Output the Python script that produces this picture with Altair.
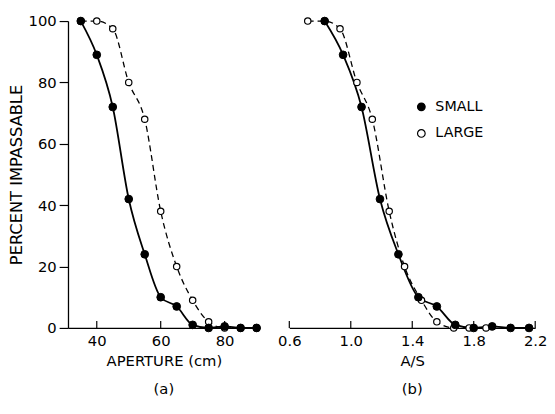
import altair as alt
import pandas as pd

# ---- data ----
series = ["SMALL", "LARGE"]
aperture_cm = [35, 40, 45, 50, 55, 60, 65, 70, 75, 80, 85, 90]
small_pct = [100, 89, 72, 42, 24, 10, 7, 1, 0, 0.5, 0, 0]
large_pct = [100, 100, 97.5, 80, 68, 38, 20, 9, 2, 0, 0, 0]
small_ratio = [0.83, 0.95, 1.07, 1.19, 1.31, 1.44, 1.56, 1.68, 1.80, 1.92, 2.04, 2.16]
large_ratio = [0.72, 0.83, 0.93, 1.04, 1.14, 1.25, 1.35, 1.46, 1.56, 1.67, 1.77, 1.88]

aperture_ticks = [40, 60, 80]
ratio_ticks = [0.6, 1.0, 1.4, 1.8, 2.2]
y_ticks = [0, 20, 40, 60, 80, 100]

df = pd.concat([
    pd.DataFrame({"size": "SMALL", "aperture": aperture_cm, "ratio": small_ratio, "pct": small_pct}),
    pd.DataFrame({"size": "LARGE", "aperture": aperture_cm, "ratio": large_ratio, "pct": large_pct}),
], ignore_index=True)

FONT = "DejaVu Sans"
H = 312


def panel(xfield, domain, ticks, xtitle, fmt, width, show_y, show_legend, sub):
    xscale = alt.Scale(domain=domain, nice=False, zero=False)
    xaxis = alt.Axis(values=ticks, ticks=False, format=fmt, title=xtitle, grid=False,
                     labelPadding=6, titlePadding=5, labelFlush=False)
    if show_y:
        yaxis = alt.Axis(values=y_ticks, grid=False, title="PERCENT IMPASSABLE",
                         tickSize=9, labelPadding=3, titlePadding=4, titleFontSize=16.5)
    else:
        yaxis = None
    yenc = alt.Y("pct:Q", scale=alt.Scale(domain=[0, 100], nice=False), axis=yaxis)
    x_main = alt.X(f"{xfield}:Q", scale=xscale, axis=xaxis)
    x_plain = alt.X(f"{xfield}:Q", scale=xscale)
    base = alt.Chart(df)

    fill_scale = alt.Scale(domain=series, range=["black", "white"])
    if show_legend:
        legend = alt.Legend(title=None, orient="none", legendX=127, legendY=80,
                            labelFont=FONT, labelFontSize=14.5, labelColor="black",
                            symbolType="circle", symbolSize=60, symbolStrokeColor="black",
                            symbolStrokeWidth=1.2, rowPadding=12, labelOffset=7, padding=0)
    else:
        legend = None

    small_line = base.transform_filter(alt.datum.size == "SMALL").mark_line(
        interpolate="monotone", color="black", strokeWidth=1.8
    ).encode(x=x_main, y=yenc)
    large_line = base.transform_filter(alt.datum.size == "LARGE").mark_line(
        interpolate="monotone", color="black", strokeWidth=1.3, strokeDash=[6, 4]
    ).encode(x=x_plain, y=yenc)
    large_pts = base.transform_filter(alt.datum.size == "LARGE").mark_point(
        filled=True, stroke="black", strokeWidth=1.2, size=42, opacity=1
    ).encode(x=x_plain, y=yenc, fill=alt.Fill("size:N", scale=fill_scale, legend=legend))
    small_pts = base.transform_filter(alt.datum.size == "SMALL").mark_point(
        filled=True, stroke="black", strokeWidth=1, size=62, opacity=1
    ).encode(x=x_plain, y=yenc, fill=alt.Fill("size:N", scale=fill_scale, legend=legend))

    tick_df = pd.DataFrame({xfield: ticks})
    tick_rules = alt.Chart(tick_df).mark_rule(color="black", strokeWidth=1.2).encode(
        x=x_plain, y=alt.value(H), y2=alt.value(H - 7)
    )

    return alt.layer(small_line, large_line, large_pts, small_pts, tick_rules).properties(
        width=width, height=H,
        title=alt.TitleParams(sub, orient="bottom", font=FONT, fontSize=15,
                              fontWeight="normal", color="black", offset=14),
    )


left = panel("aperture", [31, 91], aperture_ticks, "APERTURE (cm)", "d", 195, True, False, "(a)")
right = panel("ratio", [0.6, 2.2], ratio_ticks, "A/S", ".1f", 250, False, True, "(b)")

chart = alt.hconcat(left, right, spacing=15).resolve_scale(fill="independent").resolve_legend(
    fill="independent"
).properties(
    padding={"left": 0, "top": 3, "right": 0, "bottom": 0},
    background="white",
).configure_view(stroke=None).configure_axis(
    domainColor="black", domainWidth=1.3, tickColor="black", tickWidth=1.2,
    labelFont=FONT, labelFontSize=15, labelColor="black",
    titleFont=FONT, titleFontSize=15, titleFontWeight="normal", titleColor="black",
)

chart.save("out.html", embed_options={"renderer": "svg", "actions": False})
